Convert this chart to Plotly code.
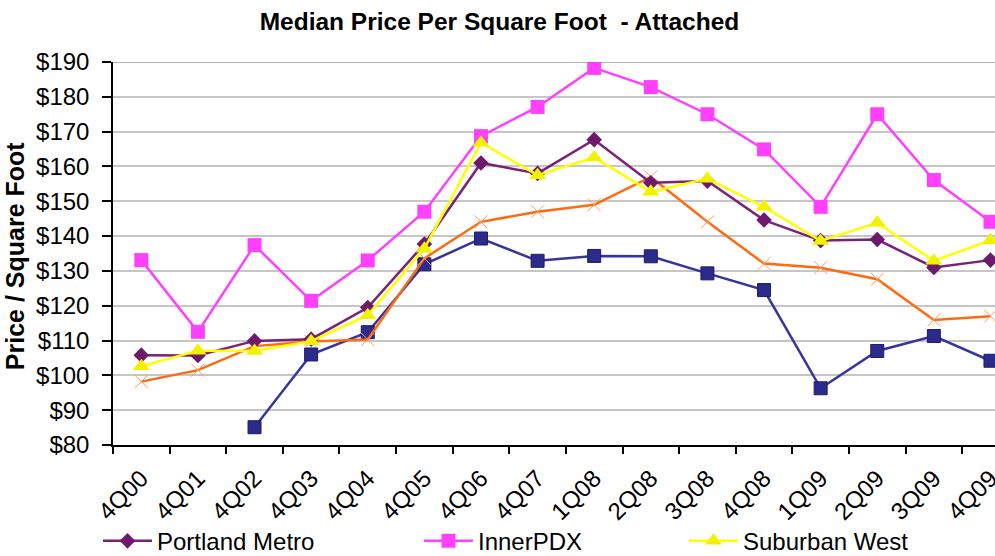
import plotly.graph_objects as go

# Quarter labels along the x axis
quarters = ["4Q00", "4Q01", "4Q02", "4Q03", "4Q04", "4Q05", "4Q06", "4Q07",
            "1Q08", "2Q08", "3Q08", "4Q08", "1Q09", "2Q09", "3Q09", "4Q09"]

# Median price per square foot (USD), attached homes
portland_metro = [105.8, 105.7, 109.9, 110.4, 119.5, 137.7, 161.0, 158.0,
                  167.7, 155.3, 155.8, 144.6, 138.7, 139.0, 131.0, 133.1]
inner_pdx = [133.1, 112.5, 137.4, 121.4, 133.0, 147.0, 168.7, 177.1,
             188.3, 182.8, 175.0, 164.9, 148.4, 175.0, 156.1, 144.1]
suburban_west = [102.6, 107.1, 107.0, 109.8, 117.3, 136.4, 166.8, 157.5,
                 162.6, 152.7, 156.5, 148.4, 138.6, 143.8, 132.9, 138.8]
suburban_east = [None, None, 85.1, 106.0, 112.4, 131.9, 139.3, 132.9,
                 134.3, 134.2, 129.3, 124.5, 96.3, 107.0, 111.3, 104.2]
clark_county = [98.2, 101.5, 108.4, 109.7, 110.3, 133.6, 144.1, 147.0,
                149.0, 157.0, 144.1, 132.1, 130.9, 127.6, 115.9, 117.0]

y_ticks = list(range(80, 200, 10))
y_labels = [f"${v}" for v in y_ticks]

FONT = "Liberation Sans, Arial, sans-serif"

fig = go.Figure()

fig.add_trace(go.Scatter(
    x=quarters, y=suburban_east, name="Suburban East", mode="lines+markers",
    line=dict(color="#35359c", width=2.5),
    marker=dict(symbol="square", size=13, color="#2b2b8c",
                line=dict(color="#1c1c70", width=1)),
    showlegend=False))
fig.add_trace(go.Scatter(
    x=quarters, y=clark_county, name="Clark County", mode="lines+markers",
    line=dict(color="#ff6a10", width=2.5),
    marker=dict(symbol="x-thin", size=13, color="#ff9a60",
                line=dict(color="#ff9a60", width=1)),
    showlegend=False))
fig.add_trace(go.Scatter(
    x=quarters, y=inner_pdx, name="InnerPDX", mode="lines+markers",
    line=dict(color="#ff40ff", width=2.5),
    marker=dict(symbol="square", size=14, color="#ff40ff"),
    legend="legend2"))
fig.add_trace(go.Scatter(
    x=quarters, y=portland_metro, name="Portland Metro", mode="lines+markers",
    line=dict(color="#7a2278", width=2.5),
    marker=dict(symbol="diamond", size=12, color="#6e1a6c"),
    legend="legend"))
fig.add_trace(go.Scatter(
    x=quarters, y=suburban_west, name="Suburban West", mode="lines+markers",
    line=dict(color="#ffff00", width=2.5),
    marker=dict(symbol="triangle-up", size=15, color="#f2f200"),
    legend="legend3"))

legend_common = dict(orientation="h", xref="container", yref="container",
                     xanchor="left", yanchor="top", y=0.067,
                     bgcolor="rgba(0,0,0,0)", borderwidth=0, itemwidth=49,
                     font=dict(family=FONT, size=24, color="#000000"))

fig.update_layout(
    width=995, height=556,
    margin=dict(l=113, r=0, t=62, b=111, autoexpand=False),
    paper_bgcolor="#ffffff", plot_bgcolor="#ffffff",
    font=dict(family=FONT, size=24, color="#000000"),
    title=dict(text="<b>Median Price Per Square Foot  - Attached</b>",
               x=0.502, xref="container", xanchor="center",
               y=0.962, yref="container", yanchor="middle",
               font=dict(family=FONT, size=24.5, color="#000000")),
    legend=dict(x=98 / 995, **legend_common),
    legend2=dict(x=419 / 995, **legend_common),
    legend3=dict(x=684 / 995, **legend_common),
    xaxis=dict(type="category", categoryorder="array", categoryarray=quarters,
               range=[-0.5, 15.08], tickson="boundaries", ticks="outside",
               ticklen=7, tickwidth=1.5, tickcolor="#000000",
               showline=True, linecolor="#000000", linewidth=1.5,
               tickangle=-45, showgrid=False, zeroline=False,
               ticklabelstandoff=8,
               tickfont=dict(family=FONT, size=24, color="#000000")),
    yaxis=dict(range=[80, 190], tickvals=y_ticks, ticktext=y_labels,
               ticks="outside", ticklen=9, tickwidth=1.5, tickcolor="#000000",
               showline=True, linecolor="#000000", linewidth=1.5,
               showgrid=True, gridcolor="#c6c6c6", gridwidth=1.5,
               zeroline=False, ticklabelstandoff=8,
               tickfont=dict(family=FONT, size=24, color="#000000")),
    shapes=[dict(type="line", xref="paper", yref="y", x0=0, x1=1, y0=190, y1=190,
                 line=dict(color="#9a9a9a", width=1.5), layer="below")],
    annotations=[dict(text="<b>Price / Square Foot</b>", textangle=-90,
                      xref="paper", yref="paper",
                      x=(15 - 113) / 882, y=(445 - 256) / 383.3,
                      xanchor="center", yanchor="middle", showarrow=False,
                      font=dict(family=FONT, size=25, color="#000000"))],
)

fig.write_html("out.html")
